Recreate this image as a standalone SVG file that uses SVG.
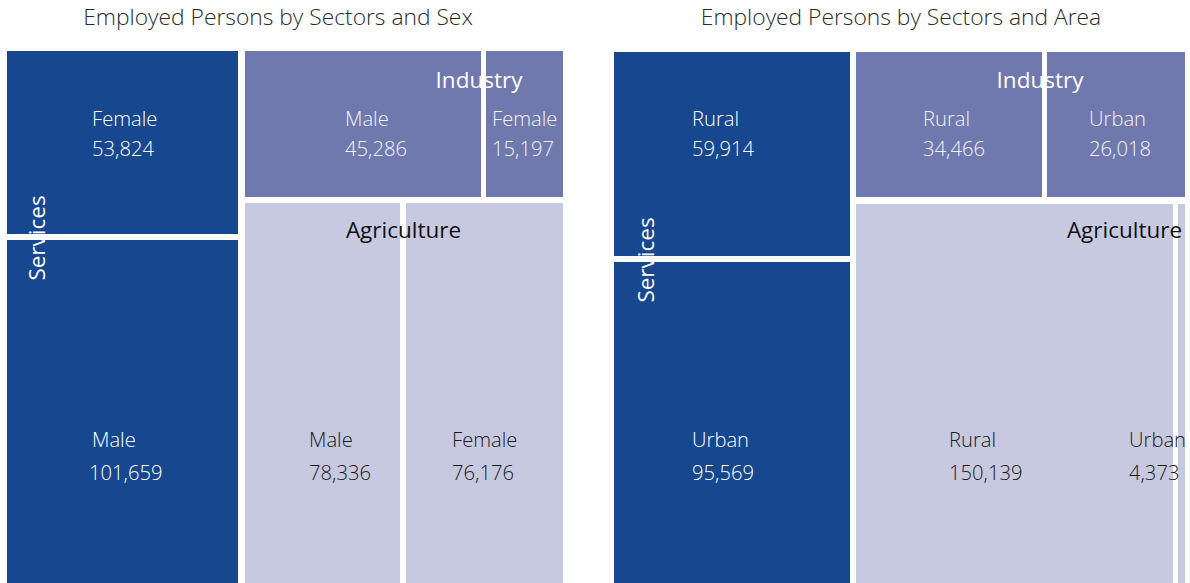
<svg xmlns="http://www.w3.org/2000/svg" width="1190" height="583" viewBox="0 0 1190 583">
<style>
.title{font-family:"Open Sans","Noto Sans","Liberation Sans",sans-serif;font-weight:300;font-size:22.8px;fill:#2B2B2B;text-anchor:middle}
.svc{fill:#17488F}
.ind{fill:#7079AE}
.agr{fill:#C7C9E1}
.lw,.li,.ld,.hw,.hd{font-family:"Open Sans","Noto Sans","Liberation Sans",sans-serif}
.lw{font-size:20.2px;font-weight:300;fill:#FFFFFF}
.li{font-size:20.2px;font-weight:300;fill:#F2F2F6}
.ld{font-size:20.2px;font-weight:300;fill:#1A1A1A}
.hw{font-size:22.5px;fill:#FFFFFF;text-anchor:middle}
.hd{font-size:22.5px;fill:#111111;text-anchor:middle}
</style>
<rect width="1190" height="583" fill="#FFFFFF"/>
<text class="title" x="278" y="25">Employed Persons by Sectors and Sex</text>
<text class="title" x="901" y="25">Employed Persons by Sectors and Area</text>

<g id="sex-services-female">
<rect class="svc" x="7" y="51" width="231" height="183"/>
<text class="lw" x="92" y="126">Female</text>
<text class="lw" x="92" y="156">53,824</text>
</g>
<g id="sex-services-male">
<rect class="svc" x="7" y="240" width="231" height="343"/>
<text class="lw" x="92" y="447">Male</text>
<text class="lw" x="89" y="480">101,659</text>
</g>
<g id="sex-industry-male">
<rect class="ind" x="245" y="51" width="236" height="146"/>
<text class="li" x="345" y="126">Male</text>
<text class="li" x="345" y="156">45,286</text>
</g>
<g id="sex-industry-female">
<rect class="ind" x="486" y="51" width="77" height="146"/>
<text class="li" x="492" y="126">Female</text>
<text class="li" x="492" y="156">15,197</text>
</g>
<g id="sex-agriculture-male">
<rect class="agr" x="245" y="203" width="155" height="380"/>
<text class="ld" x="309" y="447">Male</text>
<text class="ld" x="309" y="480">78,336</text>
</g>
<g id="sex-agriculture-female">
<rect class="agr" x="406" y="203" width="157" height="380"/>
<text class="ld" x="452" y="447">Female</text>
<text class="ld" x="452" y="480">76,176</text>
</g>
<g id="sex-sector-labels">
<text class="hw" x="479" y="88">Industry</text>
<text class="hd" x="403.5" y="238">Agriculture</text>
<text class="hw" transform="translate(45,238) rotate(-90)" x="0" y="0">Services</text>
</g>

<g id="area-services-rural">
<rect class="svc" x="614" y="52" width="236" height="204"/>
<text class="lw" x="692" y="126">Rural</text>
<text class="lw" x="692" y="156">59,914</text>
</g>
<g id="area-services-urban">
<rect class="svc" x="614" y="262" width="236" height="321"/>
<text class="lw" x="692" y="447">Urban</text>
<text class="lw" x="692" y="480">95,569</text>
</g>
<g id="area-industry-rural">
<rect class="ind" x="856" y="52" width="186" height="145"/>
<text class="li" x="923" y="126">Rural</text>
<text class="li" x="923" y="156">34,466</text>
</g>
<g id="area-industry-urban">
<rect class="ind" x="1047" y="52" width="138" height="145"/>
<text class="li" x="1089" y="126">Urban</text>
<text class="li" x="1089" y="156">26,018</text>
</g>
<g id="area-agriculture-rural">
<rect class="agr" x="856" y="204" width="317" height="379"/>
<text class="ld" x="949" y="447">Rural</text>
<text class="ld" x="949" y="480">150,139</text>
</g>
<g id="area-agriculture-urban">
<rect class="agr" x="1178" y="204" width="7" height="379"/>
<text class="ld" x="1129" y="447">Urban</text>
<text class="ld" x="1129" y="480">4,373</text>
</g>
<g id="area-sector-labels">
<text class="hw" x="1040" y="88">Industry</text>
<text class="hd" x="1124.5" y="238">Agriculture</text>
<text class="hw" transform="translate(654,260) rotate(-90)" x="0" y="0">Services</text>
</g>
</svg>
